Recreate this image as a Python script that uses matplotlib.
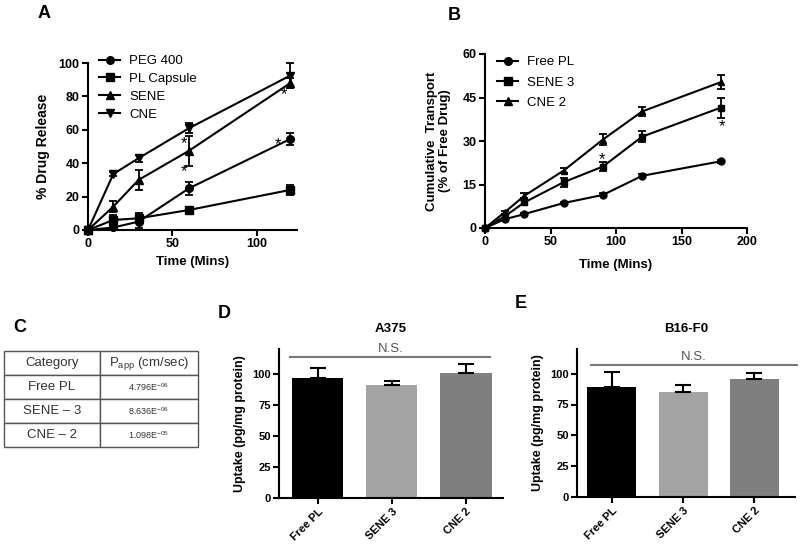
import matplotlib
matplotlib.use("Agg")
import matplotlib.pyplot as plt
from matplotlib.lines import Line2D

plt.rcParams['font.family'] = ['Liberation Sans', 'DejaVu Sans']
plt.rcParams['mathtext.fontset'] = 'custom'
plt.rcParams['mathtext.rm'] = 'Liberation Sans'

# ---- Panel A data ----
a_time = [0, 15, 30, 60, 120]
a_labels = ["PEG 400", "PL Capsule", "SENE", "CNE"]
a_peg = [0, 1.5, 5, 25, 54.5]
a_peg_err = [0, 1, 4, 4, 3.5]
a_pl = [0, 6, 7, 12, 24]
a_pl_err = [0, 3, 3, 1.5, 3]
a_sene = [0, 14, 30, 47.5, 88]
a_sene_err = [0, 3.5, 6, 9, 3]
a_cne = [0, 33.5, 43, 61, 92.5]
a_cne_err = [0, 1, 2, 3, 7.5]
a_star_x = [57, 57, 116, 113]
a_star_y = [52, 35, 81, 51]

# ---- Panel B data ----
b_time = [0, 15, 30, 60, 90, 120, 180]
b_labels = ["Free PL", "SENE 3", "CNE 2"]
b_free = [0, 3, 4.8, 8.6, 11.4, 18, 23]
b_free_err = [0, 0.4, 0.4, 0.4, 0.5, 0.5, 0.6]
b_sene = [0, 4, 8.8, 15.8, 21.2, 31.5, 41.5]
b_sene_err = [0, 0.8, 1, 1.5, 1.5, 1.8, 3.5]
b_cne = [0, 5.4, 11.1, 19.8, 30.5, 40.2, 50.3]
b_cne_err = [0, 0.5, 0.8, 0.8, 1.8, 1.5, 2.5]
b_star_x = [89, 181]
b_star_y = [23.5, 35]

# ---- Panel C data ----
c_header = ["Category", "P$_{\\mathrm{app}}$ (cm/sec)"]
c_category = ["Free PL", "SENE \u2013 3", "CNE \u2013 2"]
c_papp = ["4.796E$^{-06}$", "8.636E$^{-06}$", "1.098E$^{-05}$"]

# ---- Panel D/E data ----
bar_cats = ["Free PL", "SENE 3", "CNE 2"]
d_vals = [96.5, 90.8, 100.3]
d_err = [8, 3.5, 8]
e_vals = [89.4, 85.3, 95.9]
e_err = [12, 5.7, 4.6]
bar_colors = ["#000000", "#a3a3a3", "#7f7f7f"]

W, H = 800, 545
fig = plt.figure(figsize=(W / 100, H / 100), dpi=100)


def ax_px(l, r, t, b):
    return fig.add_axes([l / W, 1 - b / H, (r - l) / W, (b - t) / H])


def style(ax, size=9):
    for s in ["top", "right"]:
        ax.spines[s].set_visible(False)
    for s in ["left", "bottom"]:
        ax.spines[s].set_linewidth(1.5)
    ax.tick_params(width=1.5, length=4, labelsize=size, pad=2)
    for lab in ax.get_xticklabels() + ax.get_yticklabels():
        lab.set_fontweight("bold")


def line_legend(ax, markers, labels, x_px, y_px, spacing):
    handles = [Line2D([0], [0], color="black", lw=1.5, marker=m, ms=5.5)
               for m in markers]
    ax.legend(handles, labels, loc="upper left",
              bbox_to_anchor=(x_px / W, 1 - y_px / H),
              bbox_transform=fig.transFigure, frameon=False, fontsize=9.5,
              handlelength=1.6, handletextpad=0.7, labelspacing=spacing,
              borderpad=0, borderaxespad=0)


# ---- Panel A ----
axA = ax_px(88, 297, 63, 230)
markers_a = ["o", "s", "^", "v"]
for y, e, m, lab in zip([a_peg, a_pl, a_sene, a_cne],
                        [a_peg_err, a_pl_err, a_sene_err, a_cne_err],
                        markers_a, a_labels):
    axA.errorbar(a_time, y, yerr=e, marker=m, color="black", ms=5.5, lw=1.5,
                 capsize=3, elinewidth=1.3, capthick=1.3, clip_on=False)
axA.set_xlim(0, 124)
axA.set_ylim(0, 100)
axA.set_xticks([0, 50, 100])
axA.set_yticks([0, 20, 40, 60, 80, 100])
style(axA)
axA.set_xlabel("Time (Mins)", fontsize=9.5, fontweight="bold")
axA.set_ylabel("% Drug Release", fontsize=10, fontweight="bold", labelpad=6)
for sx, sy in zip(a_star_x, a_star_y):
    axA.text(sx, sy, "*", fontsize=12, ha="center", va="center")
line_legend(axA, markers_a, a_labels, 99, 55, 0.42)
fig.text(38 / W, 1 - 13 / H, "A", fontsize=13, fontweight="bold", va="center")

# ---- Panel B ----
axB = ax_px(485, 747, 54, 228)
markers_b = ["o", "s", "^"]
for y, e, m in zip([b_free, b_sene, b_cne],
                   [b_free_err, b_sene_err, b_cne_err], markers_b):
    axB.errorbar(b_time, y, yerr=e, marker=m, color="black", ms=5, lw=1.5,
                 capsize=3, elinewidth=1.3, capthick=1.3, clip_on=False)
axB.set_xlim(0, 200)
axB.set_ylim(0, 60)
axB.set_xticks([0, 50, 100, 150, 200])
axB.set_yticks([0, 15, 30, 45, 60])
style(axB)
axB.set_xlabel("Time (Mins)", fontsize=9.5, fontweight="bold", labelpad=8)
axB.set_ylabel("Cumulative  Transport\n(% of Free Drug)", fontsize=9.5,
               fontweight="bold", labelpad=8)
for sx, sy in zip(b_star_x, b_star_y):
    axB.text(sx, sy, "*", fontsize=12, ha="center", va="center")
line_legend(axB, markers_b, b_labels, 497, 56, 0.62)
fig.text(448 / W, 1 - 15 / H, "B", fontsize=13, fontweight="bold", va="center")

# ---- Panel C ----
fig.text(13 / W, 1 - 327 / H, "C", fontsize=13, fontweight="bold", va="center")
axC = ax_px(4, 198, 351, 447)
axC.axis("off")
cell_text = [c_header] + [[c, p] for c, p in zip(c_category, c_papp)]
tbl = axC.table(cellText=cell_text, cellLoc="center", bbox=[0, 0, 1, 1],
                colWidths=[0.495, 0.505])
tbl.auto_set_font_size(False)
for (r, c), cell in tbl.get_celld().items():
    cell.set_edgecolor("#555555")
    cell.set_linewidth(1.0)
    txt = cell.get_text()
    txt.set_color("#333333")
    if c == 1 and r > 0:
        txt.set_fontsize(6.5)
    else:
        txt.set_fontsize(9.5)


# ---- Panels D & E ----
def bar_panel(ax, vals, errs, title, ns_y, ns_x0, ns_x1, xlim):
    x = list(range(len(bar_cats)))
    ax.bar(x, vals, width=0.69, color=bar_colors, edgecolor="none")
    ax.errorbar(x, vals, yerr=[[0] * len(errs), errs], fmt="none", ecolor="black",
                elinewidth=1.5, capsize=6, capthick=1.5)
    ax.set_xlim(*xlim)
    ax.set_ylim(0, 120)
    ax.set_yticks([0, 25, 50, 75, 100])
    ax.set_xticks(x)
    ax.set_xticklabels(bar_cats, rotation=45, ha="right", rotation_mode="anchor")
    style(ax, size=8)
    ax.set_ylabel("Uptake (pg/mg protein)", fontsize=9, fontweight="bold")
    ax.set_title(title, fontsize=9.5, fontweight="bold", pad=12)
    ax.plot([ns_x0, ns_x1], [ns_y, ns_y], color="#7a7a7a", lw=1.5, clip_on=False)
    ax.text((ns_x0 + ns_x1) / 2, ns_y + 1.5, "N.S.", fontsize=9.5, color="#555555",
            ha="center", va="bottom")


axD = ax_px(279, 503, 349, 498)
bar_panel(axD, d_vals, d_err, "A375", 113.7, -0.37, 2.33, (-0.52, 2.5))
fig.text(218 / W, 1 - 313 / H, "D", fontsize=13, fontweight="bold", va="center")

axE = ax_px(577, 795, 349, 497)
bar_panel(axE, e_vals, e_err, "B16-F0", 107, -0.29, 2.6, (-0.49, 2.57))
fig.text(515 / W, 1 - 304 / H, "E", fontsize=13, fontweight="bold", va="center")

fig.savefig("out.png", dpi=100)
